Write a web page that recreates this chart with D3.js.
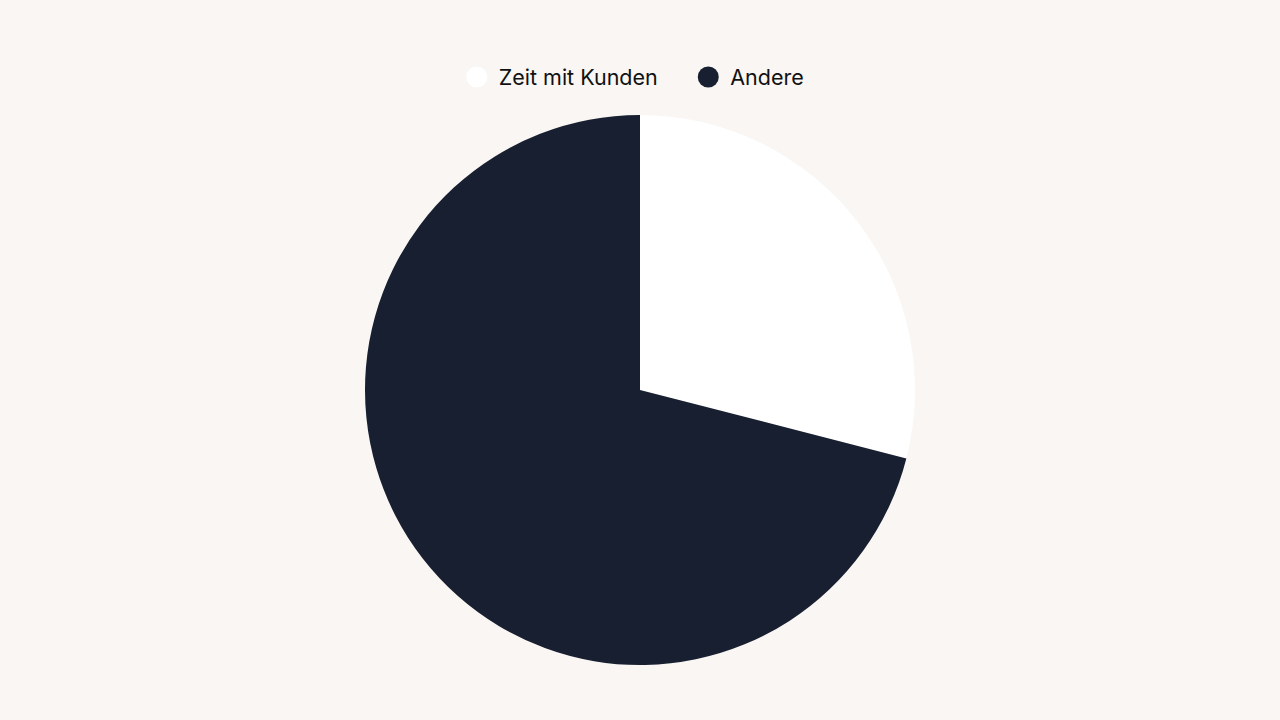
<!DOCTYPE html>
<html lang="de">
<head>
  <meta charset="UTF-8">
  <title>Zeit mit Kunden</title>
  <script src="https://d3js.org/d3.v7.min.js"></script>
  <style>
    html, body { margin: 0; padding: 0; background: #f9f6f3; }
    svg { display: block; }
    .legend text { font-family: "Inter", "Noto Sans", sans-serif; font-size: 21.5px; fill: #111; }
  </style>
</head>
<body>
  <div id="chart"></div>
  <script>
    const categories = ["Zeit mit Kunden", "Andere"];
    const values = [29, 71];
    const colors = ["#ffffff", "#171f30"];

    const width = 1280, height = 720;
    const cx = 640, cy = 390, radius = 275;

    const svg = d3.select("#chart").append("svg")
      .attr("width", width)
      .attr("height", height);

    const data = categories.map((c, i) => ({ label: c, value: values[i] }));
    const color = d3.scaleOrdinal().domain(categories).range(colors);

    const pie = d3.pie().sort(null).value(d => d.value);
    const arc = d3.arc().innerRadius(0).outerRadius(radius);

    svg.append("g")
      .attr("transform", `translate(${cx},${cy})`)
      .selectAll("path")
      .data(pie(data))
      .join("path")
      .attr("d", arc)
      .attr("fill", d => color(d.data.label));

    // legend above the pie (sits a little left of centre, like the original)
    const legend = svg.append("g").attr("class", "legend");
    const items = legend.selectAll("g")
      .data(data)
      .join("g");
    items.append("circle")
      .attr("r", 10.5)
      .attr("cx", 0)
      .attr("cy", 0)
      .attr("fill", d => color(d.label));
    items.append("text")
      .attr("x", 22)
      .attr("y", 0)
      .attr("dy", "0.35em")
      .text(d => d.label);

    let offset = 0;
    const gap = 40;
    items.each(function() {
      const bb = this.getBBox();
      d3.select(this).attr("transform", `translate(${offset + 10.5},77)`);
      offset += bb.width + gap;
    });
    const total = offset - gap;
    legend.attr("transform", `translate(${(width - total) / 2 - 5},0)`);
  </script>
</body>
</html>
